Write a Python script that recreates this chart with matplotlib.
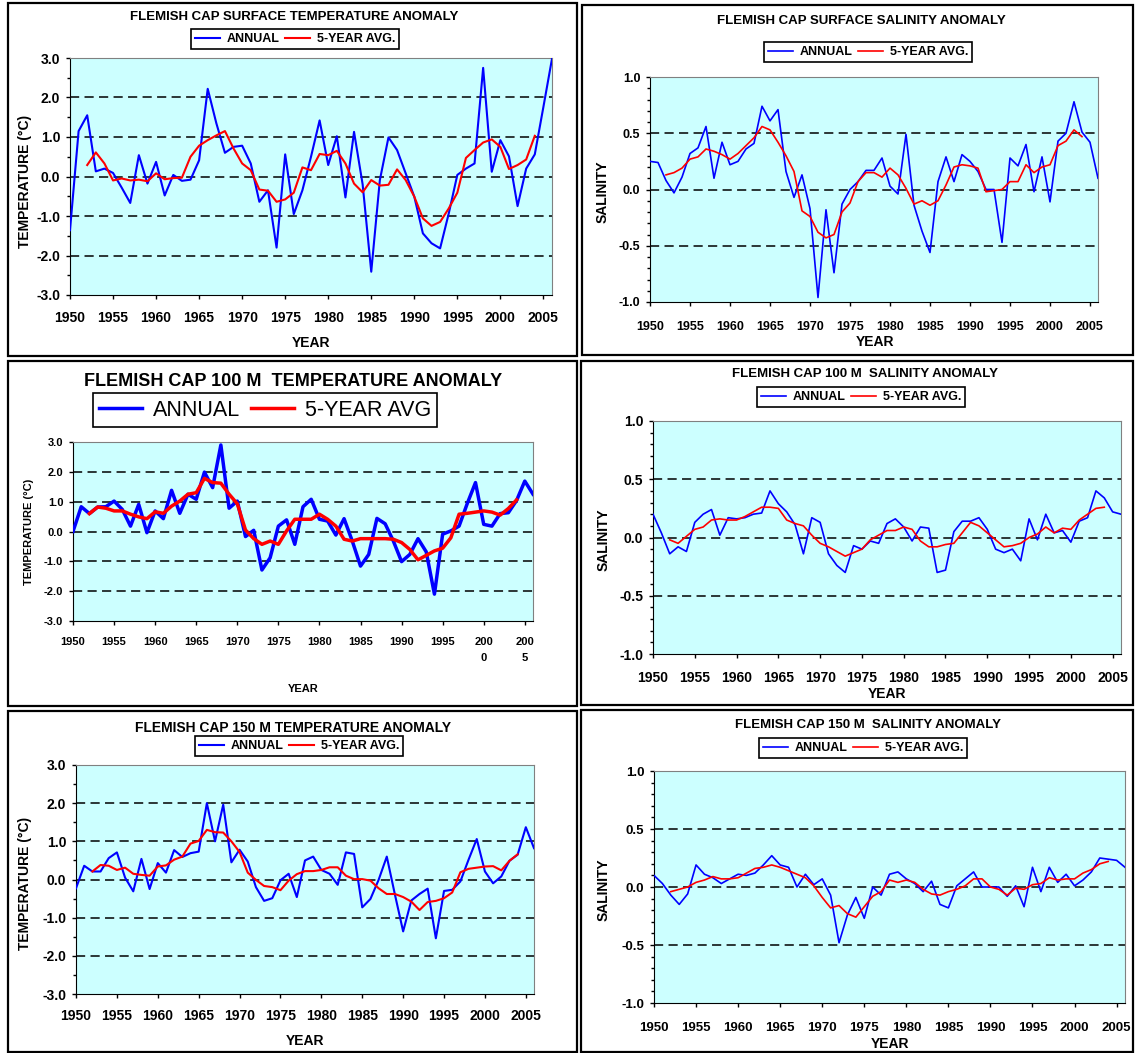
import matplotlib
matplotlib.use("Agg")
import matplotlib.pyplot as plt
from matplotlib.patches import Rectangle
from matplotlib.ticker import MultipleLocator, FormatStrFormatter

plt.rcParams["font.family"] = ["Liberation Sans", "DejaVu Sans"]
plt.rcParams["axes.unicode_minus"] = False

years = list(range(1950, 2007))
avg_years = list(range(1952, 2005))

# surface temperature anomaly (deg C)
sfc_temp_annual = [
    -1.36, 1.15, 1.55, 0.13, 0.20, 0.09, -0.28, -0.67, 0.54, -0.18,
    0.37, -0.48, 0.04, -0.11, -0.08, 0.41, 2.22, 1.35, 0.60, 0.75,
    0.78, 0.33, -0.64, -0.35, -1.80, 0.56, -0.95, -0.35, 0.50, 1.42,
    0.29, 1.02, -0.53, 1.13, -0.20, -2.41, -0.09, 0.99, 0.67, 0.08,
    -0.51, -1.44, -1.69, -1.82, -0.94, 0.04, 0.20, 0.33, 2.75, 0.12,
    0.92, 0.51, -0.75, 0.20, 0.56, 1.76, 2.98,
]
sfc_temp_5yr = [
    0.29, 0.61, 0.33, -0.10, -0.05, -0.10, -0.08, -0.12,
    0.08, -0.07, -0.04, -0.03, 0.50, 0.78, 0.92, 1.04, 1.15, 0.71,
    0.33, 0.16, -0.33, -0.36, -0.64, -0.58, -0.41, 0.23, 0.16, 0.57,
    0.54, 0.65, 0.33, -0.18, -0.40, -0.09, -0.23, -0.21, 0.18, -0.09,
    -0.51, -1.06, -1.25, -1.15, -0.81, -0.41, 0.47, 0.67, 0.86, 0.94,
    0.75, 0.19, 0.29, 0.43, 1.03,
]

# surface salinity anomaly
sfc_sal_annual = [
    0.25, 0.24, 0.08, -0.03, 0.11, 0.32, 0.37, 0.56, 0.10, 0.42,
    0.22, 0.25, 0.36, 0.41, 0.74, 0.61, 0.71, 0.16, -0.07, 0.13,
    -0.17, -0.96, -0.18, -0.74, -0.13, 0.00, 0.07, 0.17, 0.17, 0.28,
    0.03, -0.04, 0.49, -0.14, -0.37, -0.56, 0.07, 0.29, 0.07, 0.31,
    0.25, 0.16, 0.00, 0.00, -0.47, 0.28, 0.21, 0.40, -0.02, 0.29,
    -0.11, 0.43, 0.50, 0.78, 0.51, 0.42, 0.10,
]
sfc_sal_5yr = [
    0.13, 0.15, 0.19, 0.27, 0.29, 0.36, 0.34, 0.31,
    0.27, 0.32, 0.39, 0.46, 0.56, 0.53, 0.42, 0.30, 0.16, -0.19,
    -0.24, -0.38, -0.43, -0.40, -0.20, -0.12, 0.07, 0.15, 0.15, 0.11,
    0.19, 0.13, 0.01, -0.13, -0.10, -0.14, -0.10, 0.04, 0.20, 0.22,
    0.21, 0.19, -0.02, -0.01, 0.00, 0.07, 0.07, 0.22, 0.15, 0.20,
    0.22, 0.39, 0.43, 0.53, 0.47,
]

# 100 m temperature anomaly (deg C)
t100_annual = [
    0.00, 0.83, 0.60, 0.82, 0.83, 1.02, 0.74, 0.18, 0.91, -0.04,
    0.69, 0.43, 1.38, 0.61, 1.25, 1.08, 1.99, 1.47, 2.90, 0.78,
    1.02, -0.17, 0.04, -1.29, -0.88, 0.18, 0.39, -0.43, 0.83, 1.08,
    0.41, 0.35, -0.12, 0.43, -0.32, -1.16, -0.77, 0.44, 0.26, -0.32,
    -1.01, -0.77, -0.24, -0.68, -2.10, -0.09, 0.02, 0.18, 0.94, 1.64,
    0.24, 0.18, 0.60, 0.63, 1.04, 1.69, 1.25,
]
t100_5yr = [
    0.60, 0.82, 0.78, 0.69, 0.69, 0.58, 0.49, 0.43,
    0.66, 0.61, 0.85, 1.02, 1.25, 1.30, 1.78, 1.64, 1.62, 1.25,
    0.93, 0.05, -0.24, -0.43, -0.32, -0.43, 0.02, 0.41, 0.41, 0.41,
    0.58, 0.41, 0.18, -0.26, -0.32, -0.24, -0.24, -0.24, -0.24, -0.26,
    -0.37, -0.60, -0.95, -0.80, -0.65, -0.56, -0.21, 0.58, 0.61, 0.65,
    0.69, 0.65, 0.55, 0.77, 1.06,
]

# 100 m salinity anomaly
s100_annual = [
    0.20, 0.04, -0.14, -0.08, -0.12, 0.13, 0.20, 0.24, 0.02, 0.17,
    0.16, 0.17, 0.20, 0.21, 0.40, 0.29, 0.22, 0.11, -0.14, 0.17,
    0.13, -0.14, -0.24, -0.30, -0.07, -0.10, -0.03, -0.05, 0.12, 0.16,
    0.09, -0.03, 0.09, 0.08, -0.30, -0.28, 0.05, 0.14, 0.14, 0.17,
    0.07, -0.10, -0.13, -0.10, -0.20, 0.16, -0.02, 0.20, 0.04, 0.06,
    -0.04, 0.14, 0.17, 0.40, 0.34, 0.22, 0.20,
]
s100_5yr = [
    -0.02, -0.05, 0.01, 0.07, 0.09, 0.15, 0.16, 0.15,
    0.15, 0.18, 0.22, 0.26, 0.26, 0.25, 0.15, 0.12, 0.10, 0.02,
    -0.05, -0.08, -0.12, -0.16, -0.13, -0.10, -0.02, 0.02, 0.06, 0.06,
    0.09, 0.07, -0.03, -0.08, -0.08, -0.06, -0.05, 0.04, 0.13, 0.10,
    0.04, -0.02, -0.08, -0.07, -0.05, 0.00, 0.03, 0.09, 0.04, 0.08,
    0.07, 0.15, 0.20, 0.25, 0.26,
]

# 150 m temperature anomaly (deg C)
t150_annual = [
    -0.23, 0.36, 0.21, 0.21, 0.56, 0.71, 0.05, -0.31, 0.54, -0.25,
    0.43, 0.18, 0.77, 0.59, 0.69, 0.73, 2.00, 1.00, 1.96, 0.45,
    0.78, 0.47, -0.20, -0.56, -0.49, -0.02, 0.15, -0.46, 0.50, 0.60,
    0.25, 0.15, -0.14, 0.71, 0.67, -0.73, -0.51, -0.01, 0.60, -0.40,
    -1.36, -0.55, -0.38, -0.24, -1.54, -0.30, -0.27, -0.05, 0.52, 1.06,
    0.21, -0.10, 0.08, 0.49, 0.65, 1.37, 0.82,
]
t150_5yr = [
    0.21, 0.38, 0.36, 0.25, 0.31, 0.15, 0.12, 0.10,
    0.34, 0.37, 0.52, 0.60, 0.94, 1.01, 1.30, 1.24, 1.23, 1.00,
    0.72, 0.18, -0.01, -0.17, -0.20, -0.28, -0.03, 0.14, 0.22, 0.22,
    0.25, 0.32, 0.32, 0.10, 0.01, 0.01, -0.03, -0.23, -0.38, -0.38,
    -0.46, -0.58, -0.80, -0.59, -0.56, -0.49, -0.34, 0.19, 0.28, 0.31,
    0.34, 0.35, 0.24, 0.49, 0.66,
]

# 150 m salinity anomaly
s150_annual = [
    0.10, 0.03, -0.07, -0.15, -0.06, 0.19, 0.11, 0.08, 0.03, 0.07,
    0.11, 0.10, 0.12, 0.19, 0.27, 0.19, 0.17, 0.00, 0.11, 0.02,
    0.07, -0.07, -0.48, -0.24, -0.09, -0.27, 0.00, -0.07, 0.11, 0.13,
    0.07, 0.03, -0.04, 0.05, -0.15, -0.18, 0.01, 0.07, 0.13, 0.00,
    0.00, 0.00, -0.08, 0.01, -0.17, 0.17, -0.04, 0.17, 0.04, 0.11,
    0.01, 0.06, 0.13, 0.25, 0.24, 0.23, 0.17,
]
s150_5yr = [
    -0.04, -0.02, 0.00, 0.04, 0.06, 0.09, 0.07, 0.07,
    0.08, 0.12, 0.16, 0.17, 0.19, 0.17, 0.14, 0.11, 0.08, 0.01,
    -0.09, -0.18, -0.16, -0.23, -0.26, -0.17, -0.08, -0.04, 0.06, 0.04,
    0.06, 0.04, -0.02, -0.06, -0.07, -0.04, -0.02, 0.01, 0.07, 0.07,
    0.00, -0.02, -0.07, -0.01, -0.02, 0.02, 0.03, 0.08, 0.06, 0.07,
    0.07, 0.12, 0.15, 0.20, 0.22,
]

W, H = 1135, 1053
fig = plt.figure(figsize=(W / 100, H / 100), dpi=100)


def fx(x):
    return x / W


def fy(y):
    return 1 - y / H


def frame(l, t, r, b):
    fig.patches.append(Rectangle((fx(l), fy(b)), fx(r) - fx(l), fy(t) - fy(b),
                                 transform=fig.transFigure, fill=False,
                                 edgecolor="black", linewidth=1.6))


def panel(box, annual, avg, ylim, major, minor, lw, tick_fs, xpad):
    l, t, r, b = box
    ax = fig.add_axes([fx(l), fy(b), fx(r) - fx(l), fy(t) - fy(b)])
    ax.set_facecolor("#CCFFFF")
    ax.plot(years, annual, color="#0000FF", lw=lw, label="ANNUAL", zorder=3)
    ax.plot(avg_years, avg, color="#FF0000", lw=lw, label="5-YEAR AVG.", zorder=4)
    ax.set_xlim(1950, 2006)
    ax.set_ylim(*ylim)
    ax.xaxis.set_major_locator(MultipleLocator(5))
    ax.yaxis.set_major_locator(MultipleLocator(major))
    if minor:
        ax.yaxis.set_minor_locator(MultipleLocator(minor))
    ax.yaxis.set_major_formatter(FormatStrFormatter("%.1f"))
    for v in ax.get_yticks():
        if ylim[0] < v < ylim[1]:
            ax.axhline(v, color="black", lw=1.1, dashes=(6, 3.5), zorder=1)
    for s in ("top", "right"):
        ax.spines[s].set_color("#808080")
    for s in ("left", "bottom"):
        ax.spines[s].set_color("black")
    ax.tick_params(which="major", direction="out", length=3, width=1,
                   labelsize=tick_fs)
    ax.tick_params(which="minor", direction="out", length=2, width=1)
    ax.tick_params(axis="x", pad=xpad)
    ax.tick_params(axis="y", pad=4)
    for lab in ax.get_xticklabels() + ax.get_yticklabels():
        lab.set_fontweight("bold")
    return ax


def labels(ax, title, tpos, tfs, leg_pos, leg_fs, ylabel, ypos, xpos, afs,
           leg_weight="bold", handlelength=2.0):
    fig.text(fx(tpos[0]), fy(tpos[1]), title, ha="center", va="center",
             fontweight="bold", fontsize=tfs)
    leg = fig.legend(*ax.get_legend_handles_labels(), loc="center",
                     bbox_to_anchor=(fx(leg_pos[0]), fy(leg_pos[1])), ncol=2,
                     frameon=True, fancybox=False, framealpha=1,
                     edgecolor="black", borderpad=0.3,
                     prop=dict(weight=leg_weight, size=leg_fs),
                     handlelength=handlelength, handletextpad=0.5,
                     columnspacing=0.5, borderaxespad=0)
    leg.get_frame().set_linewidth(1.2)
    fig.text(fx(ypos[0]), fy(ypos[1]), ylabel, rotation=90, ha="center",
             va="center", fontweight="bold", fontsize=afs)
    fig.text(fx(xpos[0]), fy(xpos[1]), "YEAR", ha="center", va="center",
             fontweight="bold", fontsize=afs)
    return leg


for box in [(8, 3, 577, 356), (582, 5, 1133, 355), (8, 361, 577, 706),
            (581, 361, 1133, 705), (8, 711, 577, 1052), (581, 710, 1133, 1052)]:
    frame(*box)

# surface temperature
ax1 = panel((70, 58, 552, 295), sfc_temp_annual, sfc_temp_5yr, (-3, 3), 1.0, 0.5,
            1.5, 10, 8.6)
labels(ax1, "FLEMISH CAP SURFACE TEMPERATURE ANOMALY", (294, 17), 9.5,
       (295, 39), 9, "TEMPERATURE (°C)", (25, 181), (311, 343), 10)

# surface salinity
ax2 = panel((650, 77, 1098, 302), sfc_sal_annual, sfc_sal_5yr, (-1, 1), 0.5, 0.1,
            1.2, 9, 11)
labels(ax2, "FLEMISH CAP SURFACE SALINITY ANOMALY", (861, 21), 9.5,
       (868, 52), 9, "SALINITY", (603, 192), (875, 342), 10)

# 100 m temperature
ax3 = panel((73, 442, 533, 621), t100_annual, t100_5yr, (-3, 3), 1.0, None,
            2.5, 8, 8.6)
ax3.set_xticks(list(range(1950, 2006, 5)))
ax3.set_xticklabels([str(y) for y in range(1950, 2000, 5)] + ["200\n0", "200\n5"],
                    fontweight="bold", linespacing=1.7)
ax3.get_lines()[1].set_label("5-YEAR AVG")
labels(ax3, "FLEMISH CAP 100 M  TEMPERATURE ANOMALY", (293, 381), 13,
       (265, 410), 15.5, "TEMPERATURE (°C)", (29, 532), (303, 689), 8,
       leg_weight="normal", handlelength=2.0)

# 100 m salinity
ax4 = panel((653, 421, 1121, 654), s100_annual, s100_5yr, (-1, 1), 0.5, 0.1,
            1.2, 10, 9.6)
labels(ax4, "FLEMISH CAP 100 M  SALINITY ANOMALY", (865, 374), 9.5,
       (861, 397), 9, "SALINITY", (604, 540), (887, 694), 10)

# 150 m temperature
ax5 = panel((76, 765, 534, 994), t150_annual, t150_5yr, (-3, 3), 1.0, 0.5,
            1.5, 10, 7.5)
labels(ax5, "FLEMISH CAP 150 M TEMPERATURE ANOMALY", (293, 728), 10,
       (299, 746), 9, "TEMPERATURE (°C)", (25, 883), (305, 1041), 10)

# 150 m salinity
ax6 = panel((654, 771, 1125, 1003), s150_annual, s150_5yr, (-1, 1), 0.5, 0.1,
            1.2, 9.5, 10.6)
labels(ax6, "FLEMISH CAP 150 M  SALINITY ANOMALY", (868, 725), 9.5,
       (863, 748), 9, "SALINITY", (604, 890), (890, 1044), 10)

fig.savefig("out.png", dpi=100)
